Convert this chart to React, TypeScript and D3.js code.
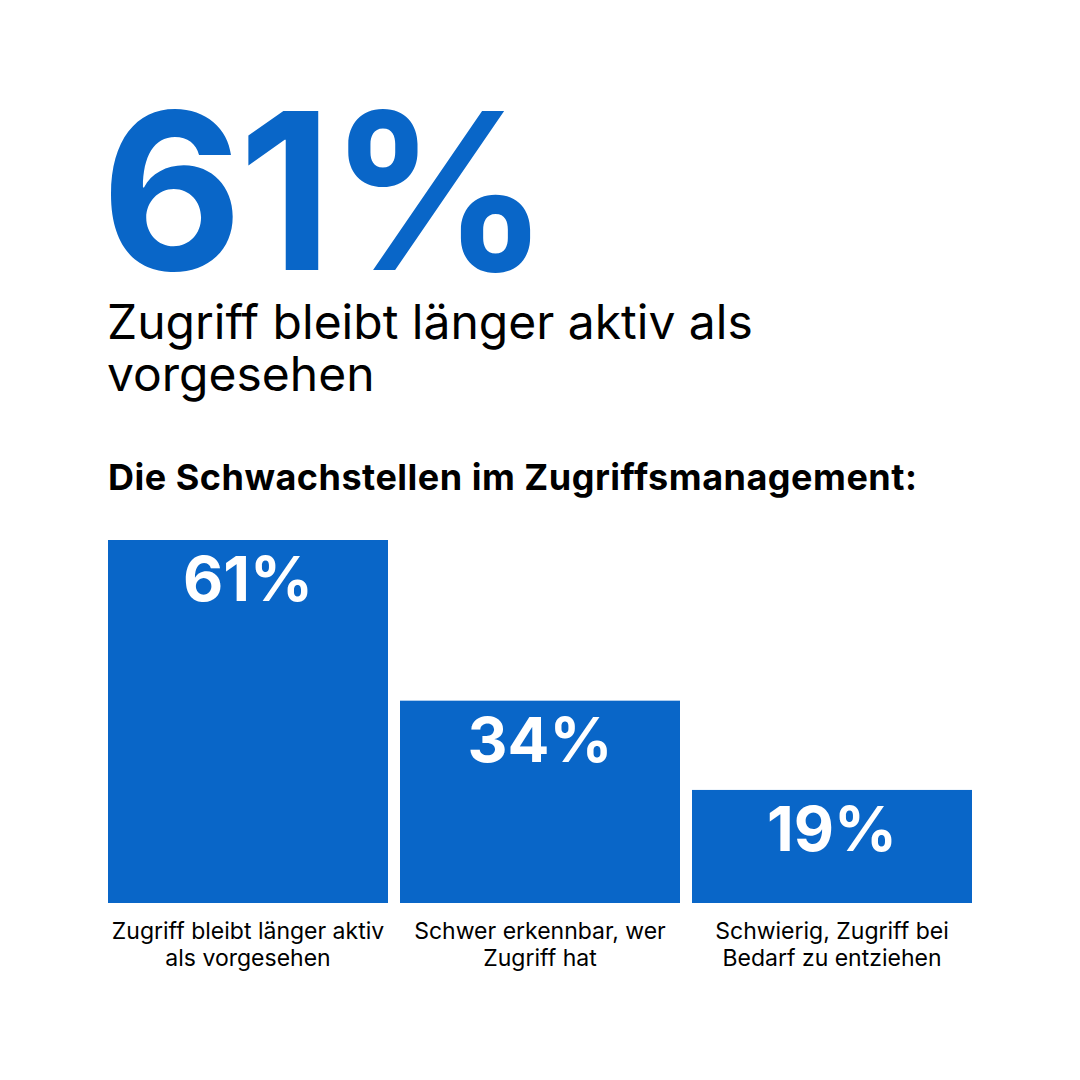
import React, { useEffect, useRef } from "react";
import * as d3 from "d3";

const categories = [
  ["Zugriff bleibt länger aktiv", "als vorgesehen"],
  ["Schwer erkennbar, wer", "Zugriff hat"],
  ["Schwierig, Zugriff bei", "Bedarf zu entziehen"],
];
const values = [61, 34, 19];
const headline = "61%";
const subtitle = ["Zugriff bleibt länger aktiv als", "vorgesehen"];
const heading = "Die Schwachstellen im Zugriffsmanagement:";

const W = 1080;
const H = 1080;
const BLUE = "#0966C8";
const FONT = "Inter, 'Noto Sans', sans-serif";

export default function App() {
  const ref = useRef<SVGSVGElement>(null);

  useEffect(() => {
    const svg = d3.select(ref.current);
    svg.selectAll("*").remove();

    svg.append("rect").attr("width", W).attr("height", H).attr("fill", "#fff");

    // big key figure
    svg.append("text")
      .attr("x", 101)
      .attr("y", 270)
      .attr("font-family", FONT)
      .attr("font-weight", 700)
      .attr("font-size", 218)
      .attr("letter-spacing", -4)
      .attr("fill", BLUE)
      .text(headline);

    svg.append("g")
      .selectAll("text")
      .data(subtitle)
      .enter()
      .append("text")
      .attr("x", 107)
      .attr("y", (d, i) => 339 + i * 52)
      .attr("font-family", FONT)
      .attr("font-size", 48)
      .attr("fill", "#000")
      .text(d => d);

    svg.append("text")
      .attr("x", 108)
      .attr("y", 490)
      .attr("font-family", FONT)
      .attr("font-weight", 700)
      .attr("font-size", 36)
      .attr("letter-spacing", 0.5)
      .attr("fill", "#000")
      .text(heading);

    const x = d3.scaleBand<number>()
      .domain(values.map((_, i) => i))
      .range([108, 972])
      .paddingInner(12 / 292)
      .paddingOuter(0);

    const y = d3.scaleLinear().domain([0, 61]).range([903, 540]);

    const bars = svg.append("g")
      .selectAll("g")
      .data(values)
      .enter()
      .append("g");

    bars.append("rect")
      .attr("x", (d, i) => x(i) as number)
      .attr("y", d => y(d))
      .attr("width", x.bandwidth())
      .attr("height", d => y(0) - y(d))
      .attr("fill", BLUE);

    bars.append("text")
      .attr("x", (d, i) => (x(i) as number) + x.bandwidth() / 2)
      .attr("y", d => y(d) + 61)
      .attr("text-anchor", "middle")
      .attr("font-family", FONT)
      .attr("font-weight", 700)
      .attr("font-size", 62)
      .attr("fill", "#fff")
      .text(d => `${d}%`);

    bars.each(function (d, i) {
      const g = d3.select(this);
      categories[i].forEach((line, j) => {
        g.append("text")
          .attr("x", (x(i) as number) + x.bandwidth() / 2)
          .attr("y", 939 + j * 27)
          .attr("text-anchor", "middle")
          .attr("font-family", FONT)
          .attr("font-size", 23)
          .attr("fill", "#000")
          .text(line);
      });
    });
  }, []);

  return (
    <svg
      ref={ref}
      width={W}
      height={H}
      style={{ position: "absolute", left: 0, top: 0, display: "block" }}
    />
  );
}
